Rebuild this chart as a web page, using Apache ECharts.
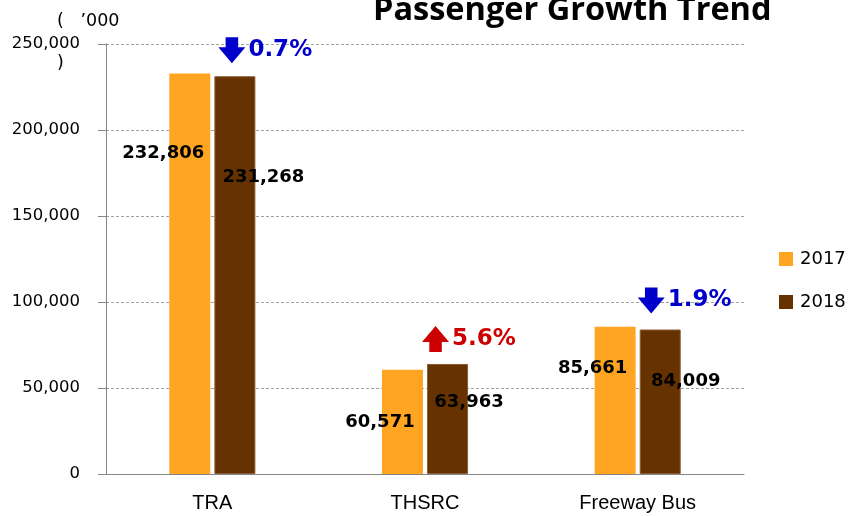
<!DOCTYPE html>
<html>
<head>
<meta charset="utf-8">
<script src="https://cdn.jsdelivr.net/npm/echarts@6/dist/echarts.min.js"></script>
<style>
  html, body { margin: 0; padding: 0; background: #fff; }
  #chart { width: 850px; height: 516px; }
</style>
</head>
<body>
<div id="chart"></div>
<script>
  // data
  var categories = ['TRA', 'THSRC', 'Freeway Bus'];
  var years = ['2017', '2018'];
  var values2017 = [232806, 60571, 85661];
  var values2018 = [231268, 63963, 84009];
  var yMin = 0, yMax = 250000, yStep = 50000;

  // label placement (relative to each bar's top-left corner)
  var labelPos2017 = [[-6, 80], [-2, 53], [-2, 42]];
  var labelPos2018 = [[49, 101], [42, 38], [46, 52]];
  // arrow offset from the 2018 bar top
  var arrowOffset = [[-3, -26], [-12, -25], [-9, -29]];

  var downArrow = 'path://M7.5,0 L20.5,0 L20.5,10 L28,10 L14,26 L0,10 L7.5,10 Z';
  var upArrow = 'path://M14,0 L28,16 L20.5,16 L20.5,26 L7.5,26 L7.5,16 L0,16 Z';

  function fmt(v) {
    return String(v).replace(/\B(?=(\d{3})+(?!\d))/g, ',');
  }

  function barData(values, pos) {
    return values.map(function (v, i) {
      return {
        value: v,
        label: { position: pos[i] }
      };
    });
  }

  var arrows = categories.map(function (c, i) {
    var change = (values2018[i] - values2017[i]) / values2017[i] * 100;
    var up = change >= 0;
    var color = up ? '#CC0000' : '#0000CC';
    return {
      coord: [i, values2018[i]],
      value: Math.abs(change).toFixed(1) + '%',
      symbol: up ? upArrow : downArrow,
      symbolOffset: arrowOffset[i],
      itemStyle: { color: color },
      label: { color: color }
    };
  });

  var myChart = echarts.init(document.getElementById('chart'));
  var option = {
    backgroundColor: '#fff',
    animation: false,
    title: {
      text: 'Passenger Growth Trend',
      left: 368,
      top: -11,
      textStyle: {
        fontFamily: 'Open Sans',
        fontSize: 32.5,
        fontWeight: 'bold',
        color: '#000'
      }
    },
    legend: {
      orient: 'vertical',
      left: 774,
      top: 245,
      itemWidth: 14,
      itemHeight: 14,
      itemGap: 25,
      icon: 'rect',
      itemStyle: { borderWidth: 0 },
      textStyle: { fontFamily: 'DejaVu Sans', fontSize: 18, color: '#000', padding: [0, 0, 0, 2] },
      data: years
    },
    grid: { left: 106, right: 106, top: 44, bottom: 42 },
    xAxis: {
      type: 'category',
      data: categories,
      axisLine: { lineStyle: { color: '#868686' } },
      axisTick: { length: 8, lineStyle: { color: '#868686' } },
      axisLabel: {
        margin: 19,
        fontFamily: 'Liberation Sans',
        fontSize: 20,
        color: '#000'
      }
    },
    yAxis: {
      type: 'value',
      min: yMin,
      max: yMax,
      interval: yStep,
      axisLine: { show: true, lineStyle: { color: '#868686' } },
      axisTick: { show: true, length: 8, lineStyle: { color: '#868686' } },
      splitLine: { lineStyle: { color: '#a0a0a0', type: [3, 2] } },
      axisLabel: {
        margin: 26,
        fontFamily: 'DejaVu Sans',
        fontSize: 16.5,
        color: '#000',
        formatter: fmt
      }
    },
    graphic: [
      { type: 'text', left: 57, top: 12, style: { text: '(   \u2019000', font: '17.5px "DejaVu Sans"', fill: '#000' } },
      { type: 'text', left: 57, top: 54, style: { text: ')', font: '17.5px "DejaVu Sans"', fill: '#000' } }
    ],
    series: [
      {
        name: years[0],
        type: 'bar',
        barWidth: 41,
        barGap: '10%',
        itemStyle: { color: '#FFA521' },
        label: {
          show: true,
          align: 'center',
          verticalAlign: 'middle',
          fontFamily: 'DejaVu Sans',
          fontWeight: 'bold',
          fontSize: 18,
          color: '#000',
          formatter: function (p) { return fmt(p.value); }
        },
        data: barData(values2017, labelPos2017)
      },
      {
        name: years[1],
        type: 'bar',
        barWidth: 41,
        barGap: '10%',
        itemStyle: { color: '#663300', borderColor: '#8a5a35', borderWidth: 1 },
        label: {
          show: true,
          align: 'center',
          verticalAlign: 'middle',
          fontFamily: 'DejaVu Sans',
          fontWeight: 'bold',
          fontSize: 18,
          color: '#000',
          formatter: function (p) { return fmt(p.value); }
        },
        data: barData(values2018, labelPos2018),
        markPoint: {
          symbolSize: [27, 26],
          label: {
            show: true,
            position: 'right',
            distance: 3,
            fontFamily: 'DejaVu Sans',
            fontWeight: 'bold',
            fontSize: 23,
            formatter: function (p) { return p.value; }
          },
          data: arrows
        }
      }
    ]
  };
  myChart.setOption(option);
</script>
</body>
</html>
